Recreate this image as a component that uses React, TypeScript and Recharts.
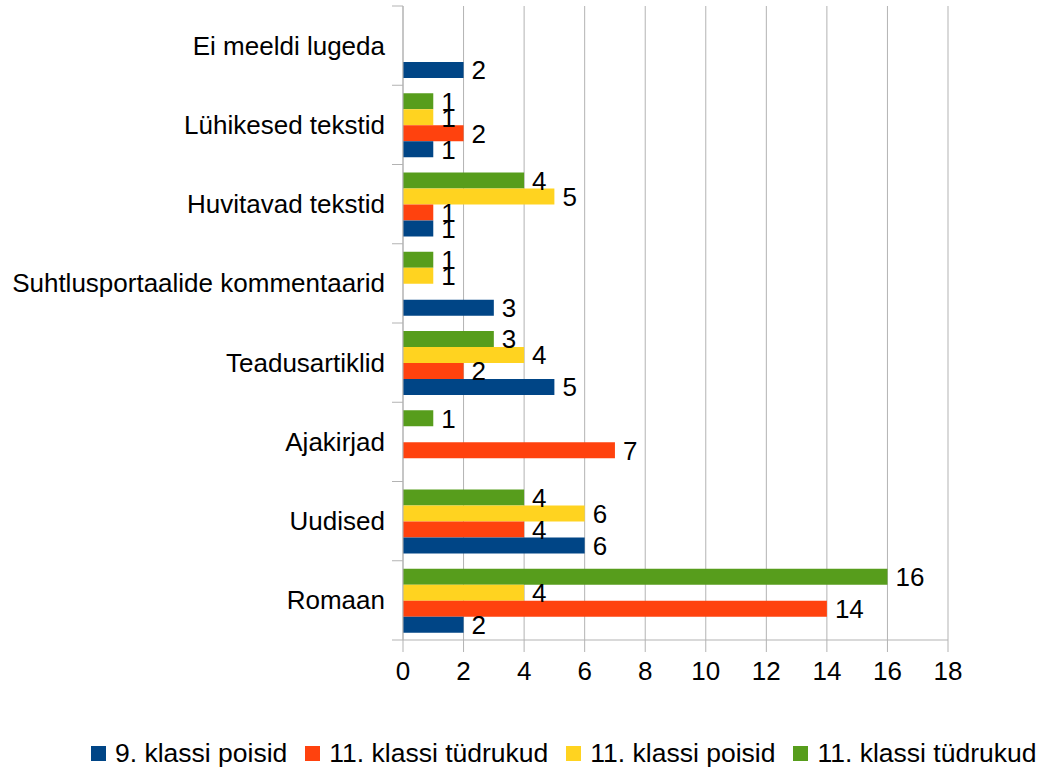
import React from 'react';
import { BarChart, Bar, XAxis, YAxis, CartesianGrid, LabelList, Legend } from 'recharts';

const categories = [
  'Ei meeldi lugeda',
  'Lühikesed tekstid',
  'Huvitavad tekstid',
  'Suhtlusportaalide kommentaarid',
  'Teadusartiklid',
  'Ajakirjad',
  'Uudised',
  'Romaan',
];
const poisid9 = [2, 1, 1, 3, 5, null, 6, 2];
const tudrukud11a = [null, 2, 1, null, 2, 7, 4, 14];
const poisid11 = [null, 1, 5, 1, 4, null, 6, 4];
const tudrukud11b = [null, 1, 4, 1, 3, 1, 4, 16];
const xTicks = [0, 2, 4, 6, 8, 10, 12, 14, 16, 18];

const seriesNames = ['9. klassi poisid', '11. klassi tüdrukud', '11. klassi poisid', '11. klassi tüdrukud'];
const seriesKeys = ['s1', 's2', 's3', 's4'];
const colors = ['#004586', '#ff420e', '#ffd320', '#579d1c'];

const data = categories.map((c, i) => ({
  name: c,
  s1: poisid9[i],
  s2: tudrukud11a[i],
  s3: poisid11[i],
  s4: tudrukud11b[i],
}));

const FONT = '"Liberation Sans", Arial, sans-serif';
const FS = 26;
const GRID = '#b3b3b3';

const YTick = (props: any) => {
  const { x, y, payload, index } = props;
  const off = payload && payload.offset ? payload.offset : 39.6;
  const lx1 = x + 7;
  const lx2 = x + 18;
  return (
    <g>
      <line x1={lx1} x2={lx2} y1={y - off} y2={y - off} stroke={GRID} strokeWidth={1} />
      {index === categories.length - 1 ? (
        <line x1={lx1} x2={lx2} y1={y + off} y2={y + off} stroke={GRID} strokeWidth={1} />
      ) : null}
      <text x={x} y={y} dy="0.35em" textAnchor="end" fill="#000" fontFamily={FONT} fontSize={FS}>
        {payload.value}
      </text>
    </g>
  );
};

const ValueLabel = (props: any) => {
  const { x, y, width, height, value } = props;
  if (value === null || value === undefined) return null;
  return (
    <text x={x + width + 8} y={y + height / 2} dy="0.36em" textAnchor="start" fill="#000" fontFamily={FONT} fontSize={FS}>
      {value}
    </text>
  );
};

const LegendContent = () => (
  <div
    style={{
      display: 'flex',
      alignItems: 'center',
      height: 35,
      paddingLeft: 91,
      fontFamily: FONT,
      fontSize: 26.5,
      color: '#000',
      whiteSpace: 'nowrap',
    }}
  >
    {seriesNames.map((n, i) => (
      <div key={i} style={{ display: 'flex', alignItems: 'center', marginRight: 18 }}>
        <span style={{ display: 'inline-block', width: 15, height: 15, background: colors[i], marginRight: 9 }} />
        <span>{n}</span>
      </div>
    ))}
  </div>
);

export default function App() {
  const order = [3, 2, 1, 0];
  return (
    <div style={{ width: 1045, height: 771 }}>
      <style>{'body{margin:0}'}</style>
      <BarChart
        width={1045}
        height={771}
        data={data}
        layout="vertical"
        margin={{ top: 6, right: 97, left: 0, bottom: 0 }}
        barSize={16}
        barGap={0}
      >
        <CartesianGrid horizontal={false} vertical={true} stroke={GRID} strokeDasharray="" />
        <XAxis
          type="number"
          domain={[0, 18]}
          ticks={xTicks}
          interval={0}
          height={96}
          tickSize={12}
          tickMargin={10}
          stroke={GRID}
          tick={{ fill: '#000', fontFamily: FONT, fontSize: FS }}
          allowDataOverflow
        />
        <XAxis
          xAxisId="top"
          orientation="top"
          type="number"
          domain={[0, 18]}
          height={0}
          tick={false}
          tickLine={false}
          stroke={GRID}
        />
        <YAxis
          type="category"
          dataKey="name"
          width={403}
          interval={0}
          tickSize={11}
          tickMargin={7}
          tickLine={false}
          stroke={GRID}
          tick={<YTick />}
        />
        <Legend verticalAlign="bottom" content={<LegendContent />} wrapperStyle={{ left: 0, width: 1045, height: 35 }} />
        {order.map((i) => (
          <Bar key={seriesKeys[i]} dataKey={seriesKeys[i]} name={seriesNames[i]} fill={colors[i]} isAnimationActive={false}>
            <LabelList dataKey={seriesKeys[i]} content={<ValueLabel />} />
          </Bar>
        ))}
      </BarChart>
    </div>
  );
}
